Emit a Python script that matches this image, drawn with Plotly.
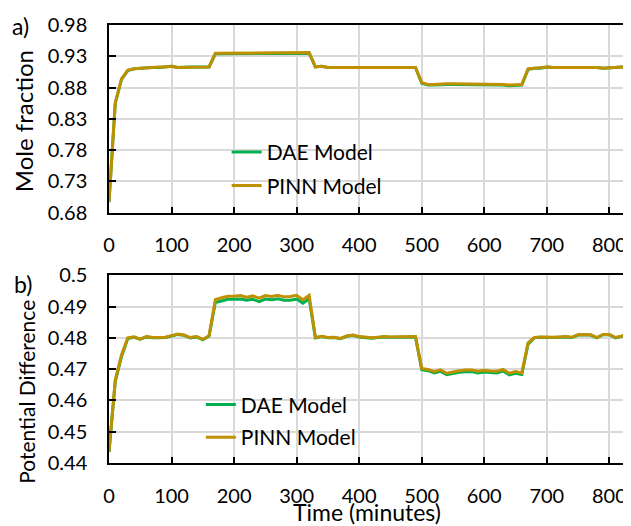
import plotly.graph_objects as go

# ---------------- data ----------------
time_min = [0, 10, 20, 30, 40, 50, 60, 70, 80, 90,
            100, 110, 120, 130, 140, 150, 160, 170, 180, 190,
            200, 210, 220, 230, 240, 250, 260, 270, 280, 290,
            300, 310, 320, 330, 340, 350, 360, 370, 380, 390,
            400, 410, 420, 430, 440, 450, 460, 470, 480, 490,
            500, 510, 520, 530, 540, 550, 560, 570, 580, 590,
            600, 610, 620, 630, 640, 650, 660, 670, 680, 690,
            700, 710, 720, 730, 740, 750, 760, 770, 780, 790,
            800, 810, 820, 830]

mole_dae = [0.697, 0.855, 0.893, 0.907, 0.910, 0.911, 0.911, 0.912, 0.912, 0.913,
            0.914, 0.912, 0.913, 0.913, 0.913, 0.913, 0.913, 0.934, 0.934, 0.935,
            0.934, 0.934, 0.935, 0.935, 0.934, 0.935, 0.935, 0.935, 0.934, 0.935,
            0.934, 0.934, 0.935, 0.913, 0.914, 0.912, 0.912, 0.912, 0.912, 0.912,
            0.912, 0.912, 0.913, 0.912, 0.913, 0.913, 0.913, 0.913, 0.912, 0.912,
            0.887, 0.884, 0.884, 0.885, 0.885, 0.885, 0.885, 0.885, 0.884, 0.885,
            0.884, 0.884, 0.884, 0.884, 0.883, 0.884, 0.884, 0.909, 0.911, 0.911,
            0.913, 0.912, 0.912, 0.912, 0.913, 0.913, 0.913, 0.912, 0.912, 0.911,
            0.912, 0.912, 0.913, 0.913]

mole_pinn = [0.697, 0.855, 0.894, 0.908, 0.910, 0.911, 0.911, 0.912, 0.913, 0.913,
             0.914, 0.912, 0.912, 0.913, 0.913, 0.913, 0.913, 0.935, 0.935, 0.936,
             0.935, 0.935, 0.935, 0.935, 0.935, 0.935, 0.936, 0.935, 0.935, 0.936,
             0.935, 0.935, 0.936, 0.913, 0.914, 0.912, 0.912, 0.913, 0.912, 0.912,
             0.912, 0.913, 0.913, 0.912, 0.913, 0.913, 0.913, 0.913, 0.912, 0.912,
             0.888, 0.885, 0.885, 0.886, 0.886, 0.886, 0.886, 0.885, 0.885, 0.886,
             0.885, 0.885, 0.885, 0.885, 0.884, 0.885, 0.885, 0.910, 0.911, 0.911,
             0.913, 0.912, 0.912, 0.912, 0.913, 0.913, 0.913, 0.912, 0.912, 0.911,
             0.912, 0.912, 0.913, 0.913]

volt_dae = [0.4435, 0.4660, 0.4740, 0.4798, 0.4802, 0.4796, 0.4803, 0.4800, 0.4800, 0.4801,
            0.4806, 0.4811, 0.4808, 0.4800, 0.4803, 0.4794, 0.4806, 0.4913, 0.4918, 0.4923,
            0.4923, 0.4924, 0.4920, 0.4923, 0.4916, 0.4924, 0.4922, 0.4925, 0.4920, 0.4920,
            0.4924, 0.4911, 0.4925, 0.4800, 0.4804, 0.4800, 0.4801, 0.4797, 0.4805, 0.4808,
            0.4803, 0.4802, 0.4799, 0.4801, 0.4803, 0.4802, 0.4802, 0.4804, 0.4802, 0.4803,
            0.4698, 0.4695, 0.4688, 0.4693, 0.4682, 0.4687, 0.4690, 0.4692, 0.4692, 0.4688,
            0.4691, 0.4689, 0.4688, 0.4694, 0.4682, 0.4687, 0.4683, 0.4780, 0.4800, 0.4802,
            0.4801, 0.4801, 0.4802, 0.4803, 0.4801, 0.4809, 0.4810, 0.4809, 0.4800, 0.4810,
            0.4810, 0.4800, 0.4805, 0.4812]

volt_pinn = [0.4435, 0.4665, 0.4745, 0.4800, 0.4803, 0.4796, 0.4804, 0.4801, 0.4801, 0.4802,
             0.4807, 0.4812, 0.4809, 0.4801, 0.4804, 0.4795, 0.4807, 0.4922, 0.4928, 0.4933,
             0.4933, 0.4935, 0.4930, 0.4934, 0.4927, 0.4935, 0.4932, 0.4936, 0.4931, 0.4932,
             0.4936, 0.4922, 0.4936, 0.4801, 0.4805, 0.4801, 0.4802, 0.4798, 0.4806, 0.4809,
             0.4804, 0.4803, 0.4800, 0.4802, 0.4804, 0.4803, 0.4803, 0.4805, 0.4803, 0.4804,
             0.4702, 0.4699, 0.4692, 0.4698, 0.4687, 0.4692, 0.4695, 0.4697, 0.4697, 0.4693,
             0.4696, 0.4694, 0.4693, 0.4699, 0.4687, 0.4692, 0.4688, 0.4784, 0.4801, 0.4803,
             0.4802, 0.4802, 0.4803, 0.4804, 0.4802, 0.4810, 0.4811, 0.4810, 0.4801, 0.4811,
             0.4811, 0.4801, 0.4806, 0.4813]

x_ticks = [0, 100, 200, 300, 400, 500, 600, 700, 800]
mole_ticks = [0.68, 0.73, 0.78, 0.83, 0.88, 0.93, 0.98]
mole_tick_text = ["0.68", "0.73", "0.78", "0.83", "0.88", "0.93", "0.98"]
volt_ticks = [0.44, 0.45, 0.46, 0.47, 0.48, 0.49, 0.50]
volt_tick_text = ["0.44", "0.45", "0.46", "0.47", "0.48", "0.49", "0.5"]

GREEN = "#00B050"
GOLD = "#BF9000"
FONT = "Lato"

fig = go.Figure()

fig.add_trace(go.Scatter(x=time_min, y=mole_dae, mode="lines", name="DAE Model",
                         line=dict(color=GREEN, width=3), xaxis="x", yaxis="y",
                         legend="legend", showlegend=True))
fig.add_trace(go.Scatter(x=time_min, y=mole_pinn, mode="lines", name="PINN Model",
                         line=dict(color=GOLD, width=3), xaxis="x", yaxis="y",
                         legend="legend2", showlegend=True))
fig.add_trace(go.Scatter(x=time_min, y=volt_dae, mode="lines", name="DAE Model",
                         line=dict(color=GREEN, width=3), xaxis="x2", yaxis="y2",
                         legend="legend3", showlegend=True))
fig.add_trace(go.Scatter(x=time_min, y=volt_pinn, mode="lines", name="PINN Model",
                         line=dict(color=GOLD, width=3), xaxis="x2", yaxis="y2",
                         legend="legend4", showlegend=True))

axis_common = dict(showline=True, linecolor="black", linewidth=1.5, mirror=True,
                   showgrid=True, gridcolor="#D9D9D9", gridwidth=1.5,
                   ticks="inside", tickcolor="black", tickwidth=1.5,
                   zeroline=False, tickfont=dict(family=FONT, size=20, color="black"))

# the page is drawn with an 8px body margin, so the figure is 8px smaller
fig.update_layout(
    width=623, height=518,
    margin=dict(l=101, r=4, t=14, b=63),
    paper_bgcolor="white", plot_bgcolor="white",
    showlegend=True,
    font=dict(family=FONT, color="black"),
    xaxis=dict(domain=[0, 1], range=[0, 825], tickvals=x_ticks, ticklen=6,
               anchor="y", ticklabelstandoff=14, **axis_common),
    yaxis=dict(domain=[0.5714, 1], range=[0.68, 0.98], tickvals=mole_ticks,
               ticktext=mole_tick_text, ticklen=7, anchor="x",
               ticklabelstandoff=16, **axis_common),
    xaxis2=dict(domain=[0, 1], range=[0, 825], tickvals=x_ticks, ticklen=6,
                anchor="y2", ticklabelstandoff=14, **axis_common),
    yaxis2=dict(domain=[0, 0.4286], range=[0.44, 0.50], tickvals=volt_ticks,
                ticktext=volt_tick_text, ticklen=7, anchor="x2",
                ticklabelstandoff=16, **axis_common),
)

leg_common = dict(xanchor="left", yanchor="middle", bgcolor="rgba(0,0,0,0)",
                  visible=True, font=dict(family=FONT, size=21, color="black"))
fig.update_layout(
    legend=dict(x=0.228, y=0.709, **leg_common),
    legend2=dict(x=0.228, y=0.633, **leg_common),
    legend3=dict(x=0.178, y=0.1325, **leg_common),
    legend4=dict(x=0.178, y=0.058, **leg_common),
)

# white legend backgrounds hiding the gridlines
fig.add_shape(type="rect", xref="paper", yref="paper", layer="between",
              x0=(132 - 109) / 518, x1=(454 - 109) / 518,
              y0=0.5714, y1=(463 - 135) / 441,
              fillcolor="white", line=dict(width=0))
fig.add_shape(type="rect", xref="paper", yref="paper", layer="between",
              x0=(128 - 109) / 518, x1=(405 - 109) / 518,
              y0=0.0, y1=(463 - 388) / 441,
              fillcolor="white", line=dict(width=0))

fig.add_annotation(text="Mole fraction", xref="paper", yref="paper",
                   x=(24 - 109) / 518, y=(463 - 118.5) / 441, textangle=-90,
                   showarrow=False, font=dict(family=FONT, size=24, color="black"),
                   xanchor="center", yanchor="middle")
fig.add_annotation(text="Potential Difference", xref="paper", yref="paper",
                   x=(26 - 109) / 518, y=(463 - 391) / 441, textangle=-90,
                   showarrow=False, font=dict(family=FONT, size=21, color="black"),
                   xanchor="center", yanchor="middle")
fig.add_annotation(text="Time (minutes)", xref="paper", yref="paper",
                   x=(368 - 109) / 518, y=(463 - 512.5) / 441,
                   showarrow=False, font=dict(family=FONT, size=23, color="black"),
                   xanchor="center", yanchor="middle")
fig.add_annotation(text="a)", xref="paper", yref="paper",
                   x=(20 - 109) / 518, y=(463 - 23) / 441,
                   showarrow=False, font=dict(family=FONT, size=23, color="black"),
                   xanchor="center", yanchor="middle")
fig.add_annotation(text="b)", xref="paper", yref="paper",
                   x=(23 - 109) / 518, y=(463 - 283) / 441,
                   showarrow=False, font=dict(family=FONT, size=23, color="black"),
                   xanchor="center", yanchor="middle")

fig.write_html("out.html")
